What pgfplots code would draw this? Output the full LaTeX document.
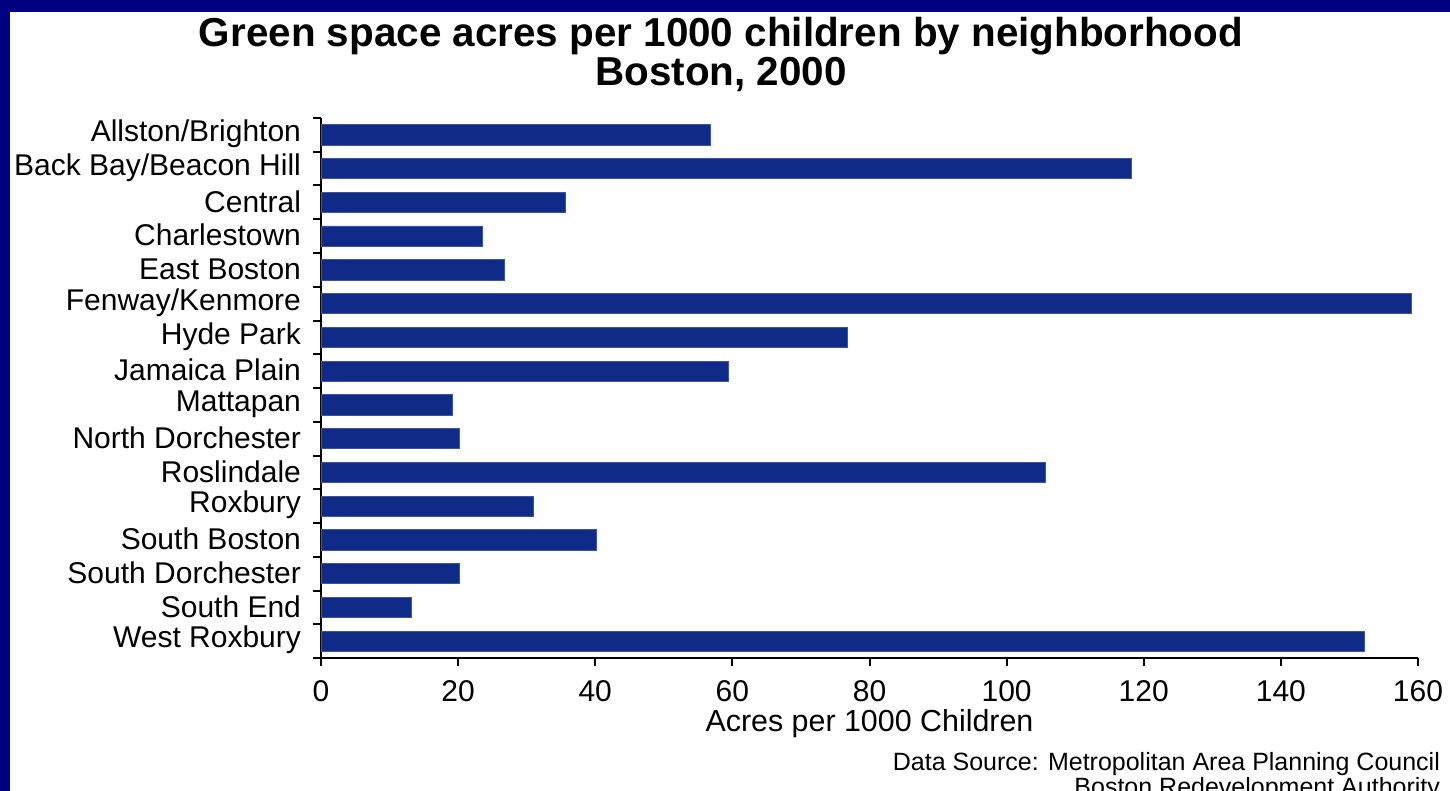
\documentclass[border=0pt]{standalone}
\usepackage{fontspec}
\setmainfont{Liberation Sans}
\usepackage{pgfplots}
\pgfplotsset{compat=1.18}
\definecolor{barblue}{RGB}{16,42,135}
\definecolor{navyframe}{RGB}{0,0,128}
\begin{document}
\begin{tikzpicture}[x=1pt,y=1pt]
\fill[navyframe] (0pt,0pt) rectangle (725pt,-395.5pt);
\fill[white] (5pt,-6pt) rectangle (725pt,-395.5pt);
\useasboundingbox (0pt,0pt) rectangle (725pt,-395.5pt);
\node[font=\bfseries\fontsize{20.2}{19.5}\selectfont, align=center] at (360.5pt,-27pt)
  {Green space acres per 1000 children by neighborhood\\Boston, 2000};
\begin{axis}[
  at={(160.5pt,-329pt)}, anchor=south west,
  scale only axis, width=548.5pt, height=270pt,
  xbar, bar width=0.6,
  xmin=0, xmax=160, ymin=-0.5, ymax=15.5,
  axis x line=bottom, axis y line=left,
  axis line style={-, line width=1pt, black},
  tick align=outside,
  xtick={0,20,...,160},
  ytick={0,...,15},
  yticklabels={West Roxbury,South End,South Dorchester,South Boston,Roxbury,Roslindale,North Dorchester,Mattapan,Jamaica Plain,Hyde Park,Fenway/Kenmore,East Boston,Charlestown,Central,Back Bay/Beacon Hill,Allston/Brighton},
  minor ytick={-0.5,0.5,...,15.5},
  major tick length=4pt, minor tick length=4pt,
  tick style={black, line width=1pt},
  every major y tick/.append style={draw=none},
  ticklabel style={font=\fontsize{15}{15}\selectfont},
  yticklabel style={xshift=-2.5pt, yshift=0.5pt},
  xticklabel style={yshift=-3.5pt},
  /pgf/number format/assume math mode=true,
  xlabel={Acres per 1000 Children},
  xlabel style={font=\fontsize{15.2}{15.2}\selectfont, yshift=3pt},
]
\addplot[fill=barblue, draw=barblue!80!white, line width=0.3pt] coordinates {
(152.2,0) (13.1,1) (20.1,2) (40.1,3) (30.9,4) (105.7,5) (20.1,6) (19.1,7)
(59.4,8) (76.8,9) (159.0,10) (26.8,11) (23.5,12) (35.7,13) (118.2,14) (56.8,15)
};
\end{axis}
\node[anchor=north east, align=right, font=\fontsize{12.5}{11.5}\selectfont] at (723.5pt,-372.5pt)
  {Data Source: Metropolitan Area Planning Council\\Boston Redevelopment Authority};
\end{tikzpicture}
\end{document}
